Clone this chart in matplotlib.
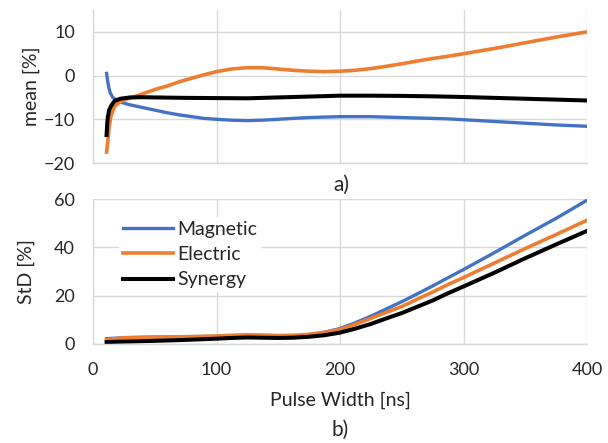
import matplotlib
matplotlib.use("Agg")
import matplotlib.pyplot as plt

plt.rcParams['font.family'] = ['Lato', 'DejaVu Sans']

# ---- data: mean [%] (panel a)
mag_mean_x = [11, 12, 13, 14, 16, 20, 25, 30, 40, 50, 60, 70, 80, 90, 100, 112, 125, 137, 150, 162, 175, 187,
              200, 212, 225, 237, 250, 262, 275, 287, 300, 325, 350, 375, 400]
mag_mean_y = [0.5, -1.5, -3.0, -4.0, -5.0, -5.8, -6.3, -6.7, -7.3, -7.9, -8.5, -9.0, -9.4, -9.8, -10.0, -10.2,
              -10.3, -10.2, -10.0, -9.8, -9.6, -9.5, -9.4, -9.4, -9.4, -9.5, -9.6, -9.7, -9.8, -9.9, -10.1,
              -10.5, -10.9, -11.3, -11.6]

ele_mean_x = [11, 12, 13, 14.5, 17.5, 22, 27, 32, 40, 50, 60, 70, 80, 90, 100, 112, 125, 137, 150, 162, 175, 187,
              200, 212, 225, 237, 250, 262, 275, 287, 300, 325, 350, 375, 400]
ele_mean_y = [-17.5, -15.0, -12.0, -9.3, -7.0, -6.0, -5.4, -5.0, -4.2, -3.2, -2.4, -1.4, -0.6, 0.2, 0.9, 1.5,
              1.8, 1.8, 1.5, 1.2, 1.0, 0.9, 1.0, 1.2, 1.6, 2.1, 2.7, 3.3, 3.9, 4.4, 5.0, 6.2, 7.5, 8.8, 10.0]

syn_mean_x = [11, 11.5, 12, 13, 14.5, 17.5, 22, 30, 40, 50, 75, 100, 125, 150, 175, 200, 225, 250, 275, 300,
              325, 350, 375, 400]
syn_mean_y = [-13.6, -11.0, -9.5, -8.0, -7.0, -5.8, -5.3, -5.0, -4.95, -5.0, -5.1, -5.15, -5.2, -5.0, -4.8,
              -4.6, -4.6, -4.65, -4.75, -4.9, -5.1, -5.3, -5.5, -5.7]

# ---- data: StD [%] (panel b)
std_x = [11, 25, 50, 75, 100, 112, 125, 137, 150, 162, 175, 187, 200, 212, 225, 237, 250, 262, 275, 287, 300,
         325, 350, 375, 400]
mag_std = [2.2, 2.6, 2.8, 3.0, 3.2, 3.4, 3.6, 3.5, 3.3, 3.3, 3.8, 4.8, 6.4, 8.7, 11.5, 14.4, 17.5, 20.6, 24.0,
           27.3, 30.8, 37.8, 45.0, 52.0, 59.5]
ele_std = [1.8, 2.6, 2.9, 3.0, 3.3, 3.6, 3.8, 3.7, 3.5, 3.6, 4.0, 4.8, 6.0, 8.1, 10.6, 13.0, 15.5, 18.4, 21.5,
           24.5, 27.5, 33.5, 39.5, 45.3, 51.2]
syn_std = [0.8, 1.0, 1.3, 1.7, 2.2, 2.5, 2.7, 2.6, 2.5, 2.6, 3.0, 3.6, 4.7, 6.3, 8.3, 10.5, 12.8, 15.3, 18.0,
           20.9, 23.8, 29.5, 35.5, 41.2, 46.8]

labels = ["Magnetic", "Electric", "Synergy"]
x_ticks = [0, 100, 200, 300, 400]
mean_ticks = [-20, -10, 0, 10]
std_ticks = [0, 20, 40, 60]

BLUE = "#4472C4"
ORANGE = "#ED7D31"
BLACK = "#000000"
GRID = "#d9d9d9"
TFS = 13
LFS = 14
TXT = "#262626"

fig = plt.figure(figsize=(6.08, 4.43), dpi=100)
ax1 = fig.add_axes([93 / 608, 1 - 163 / 443, 494 / 608, 153 / 443])
ax2 = fig.add_axes([93 / 608, 1 - 344 / 443, 494 / 608, 145 / 443])


def style(ax):
    for s in ["top", "right"]:
        ax.spines[s].set_visible(False)
    for s in ["left", "bottom"]:
        ax.spines[s].set_color(GRID)
        ax.spines[s].set_linewidth(1.0)
    ax.grid(True, color=GRID, linewidth=1.0)
    ax.set_axisbelow(True)
    ax.tick_params(length=0, labelsize=TFS, colors=TXT)
    ax.tick_params(axis="y", pad=13)
    ax.set_xlim(0, 400)
    ax.set_xticks(x_ticks)


style(ax1)
ax1.plot(mag_mean_x, mag_mean_y, color=BLUE, lw=2.4)
ax1.plot(ele_mean_x, ele_mean_y, color=ORANGE, lw=2.6)
ax1.plot(syn_mean_x, syn_mean_y, color=BLACK, lw=2.9)
ax1.set_ylim(-20, 15)
ax1.set_yticks(mean_ticks)
ax1.set_xticklabels([])
ax1.set_ylabel("mean [%]", fontsize=LFS, labelpad=3, color=TXT)
fig.text(341 / 608, 1 - 185 / 443, "a)", fontsize=LFS + 1, ha="center", va="center", color=TXT)

style(ax2)
l1, = ax2.plot(std_x, mag_std, color=BLUE, lw=2.4)
l2, = ax2.plot(std_x, ele_std, color=ORANGE, lw=2.6)
l3, = ax2.plot(std_x, syn_std, color=BLACK, lw=2.9)
ax2.set_ylim(0, 60)
ax2.set_yticks(std_ticks)
ax2.tick_params(axis="x", pad=13)
ax2.set_ylabel("StD [%]", fontsize=LFS, labelpad=14, color=TXT)
ax2.set_xlabel("Pulse Width [ns]", fontsize=LFS, labelpad=10, color=TXT)
fig.text(340 / 608, 1 - 430 / 443, "b)", fontsize=LFS + 1, ha="center", va="center", color=TXT)

leg = ax2.legend([l1, l2, l3], labels, loc="upper left", bbox_to_anchor=(0.053, 0.875),
                 frameon=True, fontsize=LFS, handlelength=2.55, handletextpad=0.25,
                 labelspacing=0.42, borderpad=0.2, borderaxespad=0.0)
leg.get_frame().set_edgecolor("none")
leg.get_frame().set_facecolor("white")
leg.get_frame().set_alpha(1.0)
for t in leg.get_texts():
    t.set_color(TXT)

fig.savefig("out.png", dpi=100)
